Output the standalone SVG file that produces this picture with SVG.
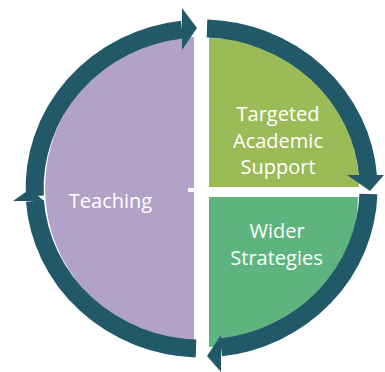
<svg xmlns="http://www.w3.org/2000/svg" width="385" height="372" viewBox="0 0 385 372">
<style>
.lbl{font-family:"Open Sans","Liberation Sans",sans-serif;font-size:20px;fill:#ffffff;text-anchor:middle}
.ring{fill:none;stroke:#215968;stroke-width:18;stroke-linecap:butt}
.head{fill:#215968}
</style>
<rect width="385" height="372" fill="#ffffff"/>
<g id="teaching">
<path d="M194,37 A149,151 0 0 0 194,339 Z" fill="#B3A2C7"/>
<rect x="188" y="188" width="6" height="4" fill="#ffffff"/>
<text class="lbl" x="110.5" y="208">Teaching</text>
</g>
<g id="targeted">
<path d="M209,38 A150,149 0 0 1 359,187 L209,187 Z" fill="#9BBB59"/>
<text class="lbl" x="278" y="121">Targeted</text>
<text class="lbl" x="278" y="147.5">Academic</text>
<text class="lbl" x="278" y="174">Support</text>
</g>
<g id="wider">
<path d="M209,197 L358,197 A149,150 0 0 1 209,347 Z" fill="#5DB47E"/>
<text class="lbl" x="277" y="238">Wider</text>
<text class="lbl" x="276.5" y="264.5">Strategies</text>
</g>
<g id="connectors">
<path class="ring" d="M34.8,196 A167,160 0 0 1 182,29.6"/>
<polygon class="head" points="182,8 197,28 182,50"/>
<path class="ring" d="M207,28.6 A167,160 0 0 1 368,176"/>
<polygon class="head" points="347,175 384,175 370,191"/>
<path class="ring" d="M368.4,194 A167,160 0 0 1 221,347.4"/>
<polygon class="head" points="221,335 207,356 221,372"/>
<path class="ring" d="M196,348.4 A167,160 0 0 1 34.9,201"/>
<polygon class="head" points="13,201 30,189 44,201"/>
</g>
</svg>
